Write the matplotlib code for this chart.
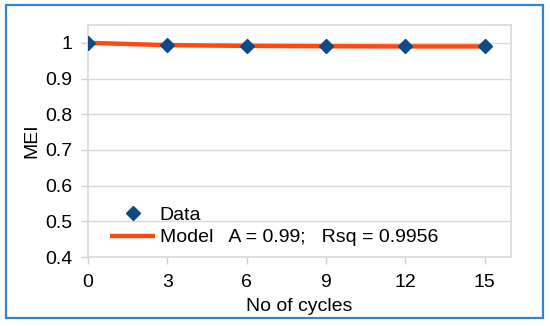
import matplotlib.pyplot as plt
from matplotlib.patches import Rectangle

plt.rcParams["font.family"] = ["Liberation Sans", "DejaVu Sans"]

cycles = [0, 3, 6, 9, 12, 15]
mei_data = [1.0, 0.9945, 0.992, 0.991, 0.991, 0.990]
mei_model = [1.0, 0.9935, 0.9915, 0.9905, 0.990, 0.990]
y_ticks = [0.4, 0.5, 0.6, 0.7, 0.8, 0.9, 1.0]
y_labels = ["0.4", "0.5", "0.6", "0.7", "0.8", "0.9", "1"]

fs = 14

fig = plt.figure(figsize=(5.5, 3.26), dpi=100)
ax = fig.add_axes([88 / 550, 1 - 257 / 326, (511 - 88) / 550, (257 - 25) / 326])

ax.plot(cycles, mei_model, color="#ff4a0f", lw=3.2, label="Model   A = 0.99;   Rsq = 0.9956",
        zorder=3, solid_capstyle="butt")
ax.plot(cycles, mei_data, ls="none", marker="D", ms=7.5, color="#0d4a8a", label="Data", zorder=4)

ax.set_xlim(0, 16)
ax.set_ylim(0.4, 1.05)
ax.set_xticks(cycles)
ax.set_yticks(y_ticks)
ax.set_yticklabels(y_labels)
ax.tick_params(axis="both", labelsize=fs, colors="#d0d0d0", labelcolor="black")
ax.tick_params(axis="y", length=5, width=1, pad=6)
ax.tick_params(axis="x", length=5, width=1, pad=7)
ax.grid(axis="y", color="#d9d9d9", lw=1)
ax.set_axisbelow(True)
for s in ax.spines.values():
    s.set_color("#d9d9d9")
    s.set_linewidth(1.2)

ax.set_xlabel("No of cycles", fontsize=fs, labelpad=5)
ax.set_ylabel("MEI", fontsize=fs, labelpad=4)

handles, labels = ax.get_legend_handles_labels()
leg = ax.legend(handles[::-1], labels[::-1], loc="lower left", bbox_to_anchor=(0.025, -0.005),
                frameon=False, fontsize=fs, handlelength=2.3, handletextpad=0.25,
                labelspacing=0.25, borderaxespad=0.2)
leg.set_zorder(5)

fig.patches.append(Rectangle((6 / 550, 1 - 318 / 326), 537 / 550, 313 / 326,
                             transform=fig.transFigure, fill=False, ec="#2f86d1", lw=1.6))

fig.savefig("out.png", dpi=100)
